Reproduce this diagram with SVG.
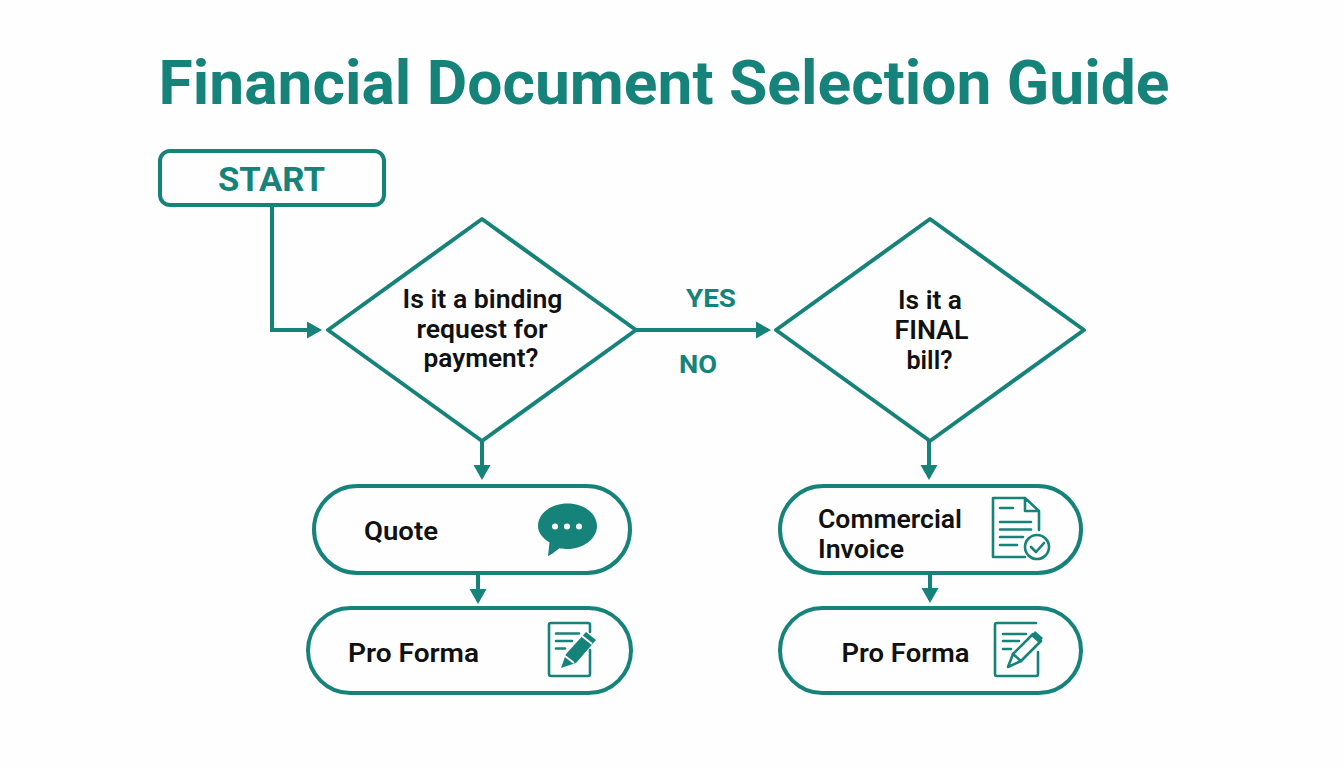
<svg xmlns="http://www.w3.org/2000/svg" width="1344" height="768" viewBox="0 0 1344 768">
<style>
.s{fill:none;stroke:#16837a;stroke-width:4;stroke-linejoin:round}
.c{fill:none;stroke:#16837a;stroke-width:4}
.t{font-family:Roboto,"Liberation Sans",sans-serif;font-weight:600;font-size:25.500px;fill:#111;text-anchor:middle}
.g{font-family:Roboto,"Liberation Sans",sans-serif;font-weight:700;fill:#16837a;text-anchor:middle}
.i{fill:none;stroke:#16837a;stroke-width:2.600;stroke-linecap:round;stroke-linejoin:round}
.f{fill:#16837a}
</style>
<defs>
<marker id="a" markerUnits="userSpaceOnUse" markerWidth="22" markerHeight="22" refX="12" refY="9" orient="auto"><path d="M0 0.500L15 9L0 17.500Z" fill="#16837a"/></marker>
</defs>
<rect width="1344" height="768" fill="#fefefe"/>
<text id="title" class="g" x="664" y="104" font-size="61" textLength="1011" lengthAdjust="spacingAndGlyphs">Financial Document Selection Guide</text>
<g id="connectors">
<path class="c" d="M272 206V330H319" marker-end="url(#a)"/>
<path class="c" d="M636 330H768" marker-end="url(#a)"/>
<path class="c" d="M482 441V477" marker-end="url(#a)"/>
<path class="c" d="M929 441V477" marker-end="url(#a)"/>
<path class="c" d="M478 573V601" marker-end="url(#a)"/>
<path class="c" d="M930 573V600" marker-end="url(#a)"/>
<text class="g" x="711" y="307" font-size="26.500" textLength="50" lengthAdjust="spacingAndGlyphs">YES</text>
<text class="g" x="698" y="373" font-size="26.500" textLength="38" lengthAdjust="spacingAndGlyphs">NO</text>
</g>
<g id="start"><rect class="s" x="160" y="151" width="224" height="54" rx="10"/><text class="g" x="271.500" y="191" font-size="33.500" textLength="107" lengthAdjust="spacingAndGlyphs">START</text></g>
<g id="d1"><path class="s" d="M482 219L636 330L482 441L328 330Z"/>
<text class="t" x="482.500" y="308" textLength="160" lengthAdjust="spacingAndGlyphs">Is it a binding</text>
<text class="t" x="482" y="338" textLength="131" lengthAdjust="spacingAndGlyphs">request for</text>
<text class="t" x="481" y="367" textLength="115" lengthAdjust="spacingAndGlyphs">payment?</text></g>
<g id="d2"><path class="s" d="M930 219L1084 330L930 441L776 330Z"/>
<text class="t" x="930" y="309" textLength="64" lengthAdjust="spacingAndGlyphs">Is it a</text>
<text class="t" x="931.500" y="339" textLength="74" lengthAdjust="spacingAndGlyphs">FINAL</text>
<text class="t" x="929.500" y="369" textLength="46" lengthAdjust="spacingAndGlyphs">bill?</text></g>
<g id="quote"><rect class="s" x="314" y="486" width="316" height="87" rx="43.500"/><text class="t" x="401" y="540" textLength="74" lengthAdjust="spacingAndGlyphs">Quote</text>
<path class="f" d="M567.500 503.500C584 503.500 597 513.500 597 526C597 539 583 549 567.500 549C564.500 549 562 548.800 559.500 548.200C556 551 552 554 548 556L549.500 542.500C542.500 538 538 532.500 538 526C538 513.500 551 503.500 567.500 503.500Z"/>
<g fill="#fff"><circle cx="555" cy="526.500" r="3"/><circle cx="567" cy="526.500" r="3"/><circle cx="579" cy="526.500" r="3"/></g></g>
<g id="proforma1"><rect class="s" x="308" y="608" width="323" height="85" rx="42.500"/><text class="t" x="413.500" y="662" textLength="131" lengthAdjust="spacingAndGlyphs">Pro Forma</text>
<path class="i" d="M590 650V674Q590 676 588 676H551Q549 676 549 674V625Q549 623 551 623H588Q590 623 590 625V632"/>
<path class="i" d="M556 633.500H579M556 641H572M556 648.500H565"/>
<path class="f" d="M561 668L566 654L586 632L596 640L576 663Z"/>
<path d="M565 656L574 663M582 636L592 644" fill="none" stroke="#fff" stroke-width="1.800"/></g>
<g id="invoice"><rect class="s" x="780" y="486" width="301" height="87" rx="43.500"/><text class="t" x="818" y="528" style="text-anchor:start" textLength="144" lengthAdjust="spacingAndGlyphs">Commercial</text><text class="t" x="818" y="558" style="text-anchor:start" textLength="86" lengthAdjust="spacingAndGlyphs">Invoice</text>
<path class="i" d="M1025 498H993V557H1025M1025 498L1039 511V530M1025 498V511H1039"/>
<path class="i" d="M1000 508H1013M1000 522H1031M1000 529.500H1031M1000 537H1023M1000 545H1017"/>
<circle class="i" cx="1037" cy="547" r="12"/><path class="i" d="M1031 547L1036 552L1044 543"/></g>
<g id="proforma2"><rect class="s" x="780" y="608" width="301" height="85" rx="42.500"/><text class="t" x="905.500" y="662" textLength="128" lengthAdjust="spacingAndGlyphs">Pro Forma</text>
<path class="i" d="M1038 652V674Q1038 676 1036 676H997Q995 676 995 674V625Q995 623 997 623H1036"/>
<path class="i" d="M1003 634H1026M1003 641H1019M1003 649H1011"/>
<path class="i" d="M1008 667L1013 654L1033 634L1041 641L1021 661Z"/>
<path class="f" d="M1031 636L1035 631L1043 638L1039 643Z"/><path class="i" d="M1013 654L1021 661"/></g>
</svg>
